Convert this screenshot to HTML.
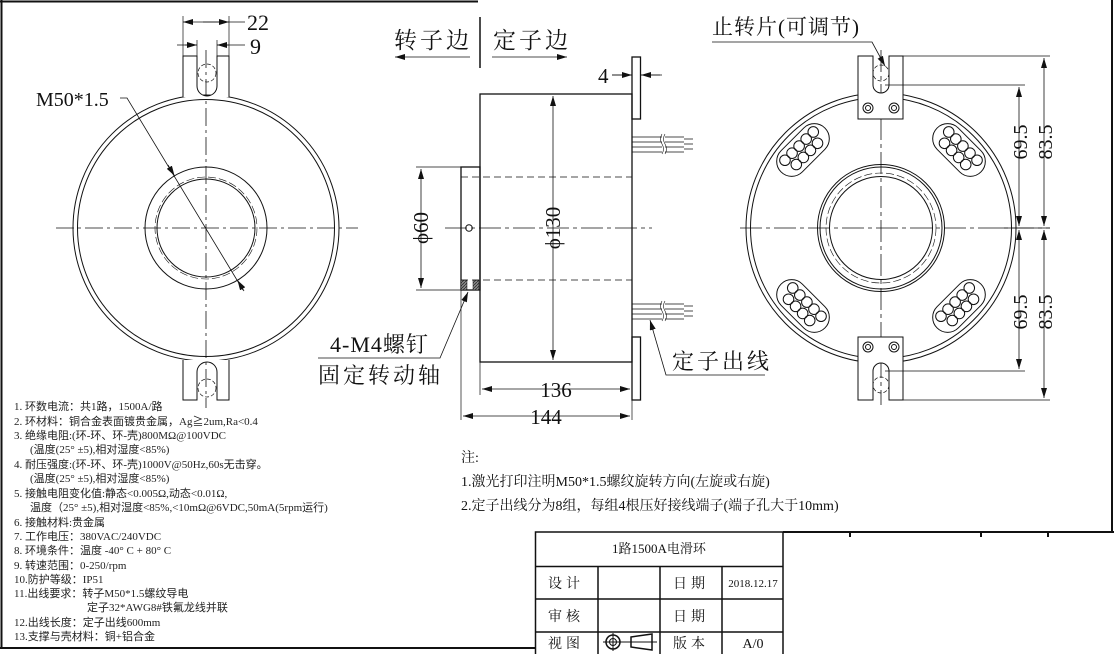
<!DOCTYPE html>
<html><head><meta charset="utf-8"><style>
html,body{margin:0;padding:0;background:#fff;}
svg{display:block;}
.t{font-family:"Liberation Serif","Noto Serif CJK SC","Noto Sans CJK SC",serif;fill:#111;}
.s{font-family:"Liberation Serif","Noto Sans CJK SC",serif;fill:#222;font-size:11px;}
</style></head><body>
<svg width="1114" height="654" viewBox="0 0 1114 654" xmlns="http://www.w3.org/2000/svg">
<defs>
<marker id="a" viewBox="0 0 10 6" refX="10" refY="3" markerWidth="10" markerHeight="6" orient="auto-start-reverse" markerUnits="userSpaceOnUse"><path d="M0,0 L10,3 L0,6z" fill="#111"/></marker>
<pattern id="h" width="3" height="3" patternUnits="userSpaceOnUse"><rect width="3" height="3" fill="#888"/><path d="M0,3 L3,0" stroke="#222" stroke-width="0.7"/></pattern>
<g id="slot" fill="none" stroke="#111" stroke-width="1">
<rect x="-31" y="-15" width="62" height="30" rx="15"/>
<circle cx="-20" cy="-5.5" r="5.3"/><circle cx="-10" cy="-5.5" r="5.3"/><circle cx="0" cy="-5.5" r="5.3"/><circle cx="10" cy="-5.5" r="5.3"/><circle cx="20" cy="-5.5" r="5.3"/>
<circle cx="-15" cy="5.5" r="5.3"/><circle cx="-5" cy="5.5" r="5.3"/><circle cx="5" cy="5.5" r="5.3"/><circle cx="15" cy="5.5" r="5.3"/>
</g>
</defs>
<g fill="none" stroke="#111" stroke-width="1">
<path d="M0,1.5 H478 M1.5,0 V648 M0,648 H535 M1112,0 V532 M783,532 H1114 M850,532 v5 M981,532 v5 M1048,532 v5" stroke-width="2"/>
<rect x="535.5" y="532" width="247.5" height="124" stroke-width="1.5"/>
<path d="M535,566.5 H783 M535,599 H783 M535,632 H783 M598,566.5 V654 M660,566.5 V654 M722,566.5 V654" stroke-width="1.5"/>
<circle cx="613" cy="642" r="7" stroke-width="1.5"/><circle cx="613" cy="642" r="3.5"/><path d="M603,642 H657 M613,633 V651"/>
<path d="M631,637 L652,634 L652,650 L631,647 Z" stroke-width="1.5"/>

<!-- LEFT VIEW -->
<circle cx="206" cy="228" r="133"/><circle cx="206" cy="228" r="128.5"/>
<circle cx="206" cy="228" r="61"/><circle cx="206" cy="228" r="49"/>
<circle cx="206" cy="228" r="51" stroke-dasharray="8 3" stroke-width="0.6"/>
<path d="M56,228 H358 M206,50 V408" stroke-dasharray="18 4 3 4" stroke-width="0.8"/>
<path d="M183,97 V56 H197 V86 A10,10 0 0 0 217,86 V56 H229 V97" fill="#fff"/>
<circle cx="207" cy="73" r="9" stroke-dasharray="4 2" stroke-width="0.7"/>
<path d="M183,360 V400 H197 V372 A10,10 0 0 1 217,372 V400 H229 V360" fill="#fff"/>
<circle cx="207" cy="388" r="9" stroke-dasharray="4 2" stroke-width="0.7"/>
<path d="M183,56 V16 M229,56 V16 M197,56 V40 M217,56 V40" stroke-width="0.7"/>
<path d="M183,22 H229 H245" stroke-width="0.8" marker-start="url(#a)"/>
<path d="M203,22 H229" stroke-width="0.8" marker-end="url(#a)"/>
<path d="M177,45 H197 M217,45 H245" stroke-width="0.8"/>
<path d="M185,45 H197" marker-end="url(#a)" stroke-width="0.8"/><path d="M229,45 H217" marker-end="url(#a)" stroke-width="0.8"/>
<path d="M120,98 H127 L243,290" stroke-width="0.8"/>
<path d="M168,165 L174.5,175.8" marker-end="url(#a)" stroke-width="0.8"/>
<path d="M244,291 L237.5,280.2" marker-end="url(#a)" stroke-width="0.8"/>

<!-- MIDDLE VIEW -->
<path d="M480,17 V68" stroke-width="1.5"/>
<path d="M395,57 H470" marker-start="url(#a)" stroke-width="0.8"/>
<path d="M492,57 H567" marker-end="url(#a)" stroke-width="0.8"/>
<rect x="480" y="94" width="152" height="268" stroke-width="1.3"/>
<rect x="632" y="57" width="8.5" height="62" stroke-width="1.3"/>
<rect x="632" y="337" width="8.5" height="63" stroke-width="1.3"/>
<rect x="461" y="167" width="19" height="123" stroke-width="1.3"/>
<rect x="461" y="280" width="6" height="10" fill="url(#h)" stroke-width="0.5"/>
<rect x="473" y="280" width="6" height="10" fill="url(#h)" stroke-width="0.5"/>
<path d="M461,177 H632 M461,280 H632" stroke-dasharray="7 4" stroke-width="0.8"/>
<path d="M445,228 H652" stroke-dasharray="22 4 4 4" stroke-width="0.8"/>
<circle cx="469" cy="228" r="3.3"/>
<path d="M632,137 H662 M665,137 H684 M632,142 H662 M665,142 H684 M632,147 H662 M665,147 H684 M632,152 H662 M665,152 H684 M684,139 H693 M684,144 H693 M684,149 H693" stroke-width="0.8"/>
<path d="M662,134 q-3,5 0,10 q3,5 0,10 M665,134 q-3,5 0,10 q3,5 0,10" stroke-width="0.6"/>
<path d="M632,304 H662 M665,304 H684 M632,309 H662 M665,309 H684 M632,314 H662 M665,314 H684 M632,319 H662 M665,319 H684 M684,306 H693 M684,311 H693 M684,316 H693" stroke-width="0.8"/>
<path d="M662,301 q-3,5 0,10 q3,5 0,10 M665,301 q-3,5 0,10 q3,5 0,10" stroke-width="0.6"/>
<path d="M553,96 V360" stroke-width="0.8" marker-start="url(#a)" marker-end="url(#a)"/>
<path d="M461,167 H416 M461,290 H416" stroke-width="0.7"/>
<path d="M421,169 V288" stroke-width="0.8" marker-start="url(#a)" marker-end="url(#a)"/>
<path d="M461,290 V420 M480,362 V395 M632,400 V420" stroke-width="0.7"/>
<path d="M482,389 H630" stroke-width="0.8" marker-start="url(#a)" marker-end="url(#a)"/>
<path d="M463,416 H630" stroke-width="0.8" marker-start="url(#a)" marker-end="url(#a)"/>
<path d="M640,75 H662 M612,75 H632" stroke-width="0.8"/>
<path d="M612,75 H632" marker-end="url(#a)" stroke-width="0.8"/><path d="M660,75 H641" marker-end="url(#a)" stroke-width="0.8"/>
<path d="M318,358 H440 L468,292" stroke-width="0.8" marker-end="url(#a)"/>
<path d="M765,375 H666 L650,320" stroke-width="0.8" marker-end="url(#a)"/>

<!-- RIGHT VIEW -->
<circle cx="881" cy="228" r="135"/><circle cx="881" cy="228" r="130.5"/>
<circle cx="881" cy="228" r="63.5"/><circle cx="881" cy="228" r="61"/>
<circle cx="881" cy="228" r="51.5"/>
<circle cx="881" cy="228" r="55" stroke-dasharray="8 3" stroke-width="0.6"/>
<path d="M740,228 H1050" stroke-dasharray="22 4 4 4" stroke-width="0.8"/>
<path d="M881,50 V405" stroke-dasharray="22 4 4 4" stroke-width="0.8"/>
<path d="M858,119 V56 H873 V85 A8,8 0 0 0 889,85 V56 H903 V119 Z" fill="#fff"/>
<circle cx="881" cy="73" r="8" stroke-dasharray="4 2" stroke-width="0.7"/>
<circle cx="868" cy="108" r="5"/><circle cx="868" cy="108" r="2.5"/>
<circle cx="894" cy="108" r="5"/><circle cx="894" cy="108" r="2.5"/>
<path d="M858,337 V400 H873 V371 A8,8 0 0 1 889,371 V400 H903 V337 Z" fill="#fff"/>
<circle cx="881" cy="385" r="8" stroke-dasharray="4 2" stroke-width="0.7"/>
<circle cx="868" cy="347" r="5"/><circle cx="868" cy="347" r="2.5"/>
<circle cx="894" cy="347" r="5"/><circle cx="894" cy="347" r="2.5"/>
<use href="#slot" transform="translate(803,150) rotate(-45)"/>
<use href="#slot" transform="translate(959,150) rotate(45)"/>
<use href="#slot" transform="translate(803,306) rotate(45)"/>
<use href="#slot" transform="translate(959,306) rotate(-45)"/>
<path d="M903,56 H1050 M885,85 H1025 M885,371 H1025 M903,400 H1050 M1000,228 H1050" stroke-width="0.7"/>
<path d="M1019,87 V226" stroke-width="0.8" marker-start="url(#a)" marker-end="url(#a)"/>
<path d="M1044,58 V226" stroke-width="0.8" marker-start="url(#a)" marker-end="url(#a)"/>
<path d="M1019,230 V369" stroke-width="0.8" marker-start="url(#a)" marker-end="url(#a)"/>
<path d="M1044,230 V398" stroke-width="0.8" marker-start="url(#a)" marker-end="url(#a)"/>
<path d="M712,42 H872 L885,66" stroke-width="0.8" marker-end="url(#a)"/>
</g>

<g class="t">
<text x="247" y="30" font-size="22">22</text>
<text x="250" y="54" font-size="22">9</text>
<text x="36" y="106" font-size="20">M50*1.5</text>
<text x="394" y="48" font-size="23" letter-spacing="3">转子边</text>
<text x="493" y="48" font-size="23" letter-spacing="3">定子边</text>
<text x="598" y="83" font-size="21">4</text>
<text x="560" y="228" font-size="21" transform="rotate(-90 560 228)" text-anchor="middle">ϕ130</text>
<text x="428" y="228" font-size="21" transform="rotate(-90 428 228)" text-anchor="middle">ϕ60</text>
<text x="556" y="397" font-size="21" text-anchor="middle">136</text>
<text x="546" y="424" font-size="21" text-anchor="middle">144</text>
<text x="330" y="352" font-size="22" letter-spacing="1">4-M4螺钉</text>
<text x="318" y="383" font-size="22" letter-spacing="3">固定转动轴</text>
<text x="672" y="369" font-size="22" letter-spacing="3">定子出线</text>
<text x="712" y="34" font-size="21" letter-spacing="1">止转片(可调节)</text>
<text x="1027" y="142" font-size="20" transform="rotate(-90 1027 142)" text-anchor="middle">69.5</text>
<text x="1052" y="142" font-size="20" transform="rotate(-90 1052 142)" text-anchor="middle">83.5</text>
<text x="1027" y="312" font-size="20" transform="rotate(-90 1027 312)" text-anchor="middle">69.5</text>
<text x="1052" y="312" font-size="20" transform="rotate(-90 1052 312)" text-anchor="middle">83.5</text>
<text x="461" y="462" font-size="14">注:</text>
<text x="461" y="486" font-size="14">1.激光打印注明M50*1.5螺纹旋转方向(左旋或右旋)</text>
<text x="461" y="510" font-size="14">2.定子出线分为8组，每组4根压好接线端子(端子孔大于10mm)</text>
<text x="659" y="553" font-size="13" text-anchor="middle">1路1500A电滑环</text>
<text x="566" y="588" font-size="14" text-anchor="middle" letter-spacing="4">设计</text>
<text x="691" y="588" font-size="14" text-anchor="middle" letter-spacing="4">日期</text>
<text x="753" y="587" font-size="11" text-anchor="middle">2018.12.17</text>
<text x="566" y="621" font-size="14" text-anchor="middle" letter-spacing="4">审核</text>
<text x="691" y="621" font-size="14" text-anchor="middle" letter-spacing="4">日期</text>
<text x="566" y="648" font-size="14" text-anchor="middle" letter-spacing="4">视图</text>
<text x="691" y="648" font-size="14" text-anchor="middle" letter-spacing="4">版本</text>
<text x="753" y="648" font-size="14" text-anchor="middle">A/0</text>
</g>
<g class="s">
<text x="14" y="410">1. 环数电流：共1路，1500A/路</text>
<text x="14" y="425">2. 环材料：铜合金表面镀贵金属，Ag≧2um,Ra&lt;0.4</text>
<text x="14" y="439">3. 绝缘电阻:(环-环、环-壳)800MΩ@100VDC</text>
<text x="30" y="453">(温度(25° ±5),相对湿度&lt;85%)</text>
<text x="14" y="468">4. 耐压强度:(环-环、环-壳)1000V@50Hz,60s无击穿。</text>
<text x="30" y="482">(温度(25° ±5),相对湿度&lt;85%)</text>
<text x="14" y="497">5. 接触电阻变化值:静态&lt;0.005Ω,动态&lt;0.01Ω,</text>
<text x="30" y="511">温度（25° ±5),相对湿度&lt;85%,&lt;10mΩ@6VDC,50mA(5rpm运行)</text>
<text x="14" y="526">6. 接触材料:贵金属</text>
<text x="14" y="540">7. 工作电压：380VAC/240VDC</text>
<text x="14" y="554">8. 环境条件：温度 -40° C + 80° C</text>
<text x="14" y="569">9. 转速范围：0-250/rpm</text>
<text x="14" y="583">10.防护等级：IP51</text>
<text x="14" y="597">11.出线要求：转子M50*1.5螺纹导电</text>
<text x="87" y="611">定子32*AWG8#铁氟龙线并联</text>
<text x="14" y="626">12.出线长度：定子出线600mm</text>
<text x="14" y="640">13.支撑与壳材料：铜+铝合金</text>
</g>
</svg>
</body></html>
